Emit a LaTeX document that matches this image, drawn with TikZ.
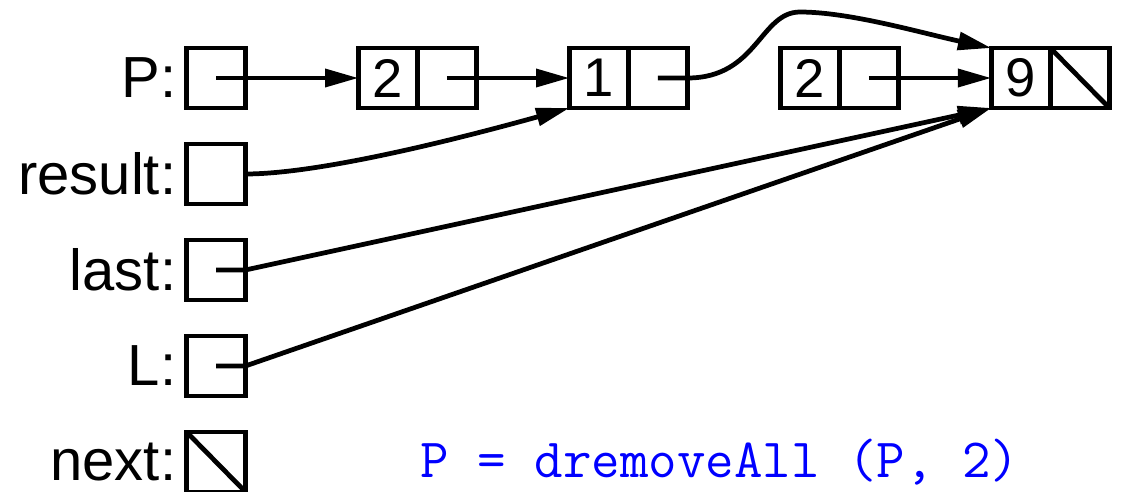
\documentclass[tikz,border=0pt]{standalone}
\usepackage{fontspec}
\setmainfont{Liberation Sans}
\usetikzlibrary{arrows.meta, positioning}
\definecolor{callblue}{RGB}{0,0,255}
\tikzset{
  cell/.style={
    rectangle, draw, line width=2.7pt, minimum width=1.18cm,
    minimum height=1.2cm, inner sep=0pt, outer sep=0pt,
    font=\fontsize{31}{31}\selectfont
  },
  var/.style={cell},
  vlbl/.style={inner sep=0pt, font=\fontsize{33}{33}\selectfont},
  ptr/.style={line width=2.7pt, -{Triangle[length=19pt,width=10pt]}},
  nil/.style={line width=2.7pt}
}

\begin{document}
\begin{tikzpicture}[x=0.02cm, y=-0.02cm, node distance=0.72cm and 1.86cm]
  \useasboundingbox (0,0) rectangle (1124,491);

  %% variables
  \node[var] (vP) at (216,78) {};
  \node[var, below=of vP]    (vres)  {};
  \node[var, below=of vres]  (vlast) {};
  \node[var, below=of vlast] (vL)    {};
  \node[var, below=of vL]    (vnext) {};

  \node[vlbl, left=0.2cm of vP]    {P:};
  \node[vlbl, left=0.2cm of vres]  {result:};
  \node[vlbl, left=0.2cm of vlast] {last:};
  \node[vlbl, left=0.2cm of vL]    {L:};
  \node[vlbl, left=0.2cm of vnext] {next:};

  %% list cells
  \node[cell, right=2.26cm of vP] (na) {2};
  \node[cell, anchor=west] (nap) at (na.east) {};
  \node[cell, right=of nap] (nb) {1};
  \node[cell, anchor=west] (nbp) at (nb.east) {};
  \node[cell, right=of nbp] (nc) {2};
  \node[cell, anchor=west] (ncp) at (nc.east) {};
  \node[cell, right=of ncp] (nd) {9};
  \node[cell, anchor=west] (ndp) at (nd.east) {};

  \coordinate (hump) at (800,12);

  %% pointers
  \draw[ptr] (vP.center) -- (na.west);
  \draw[ptr] (nap.center) -- (nb.west);
  \draw[ptr] (nbp.center) -- (nbp.east)
        .. controls +(70,0) and +(-40,0) .. (hump)
        .. controls +(50,0) and +(-70,-15) .. (nd.north west);
  \draw[ptr] (ncp.center) -- (nd.west);
  \draw[ptr] (vres.east) .. controls +(80,0) and +(-90,25) .. (nb.south west);
  \draw[ptr] (vlast.center) -- (vlast.east) -- (nd.south west);
  \draw[ptr] (vL.center) -- (vL.east) -- (nd.south west);

  %% null pointers
  \draw[nil] (vnext.north west) -- (vnext.south east);
  \draw[nil] (ndp.north west) -- (ndp.south east);

  \node[font=\ttfamily\fontsize{31.5}{31.5}\selectfont, text=callblue]
       (call) at (720,462) {P = dremoveAll (P, 2)};

\end{tikzpicture}
\end{document}
